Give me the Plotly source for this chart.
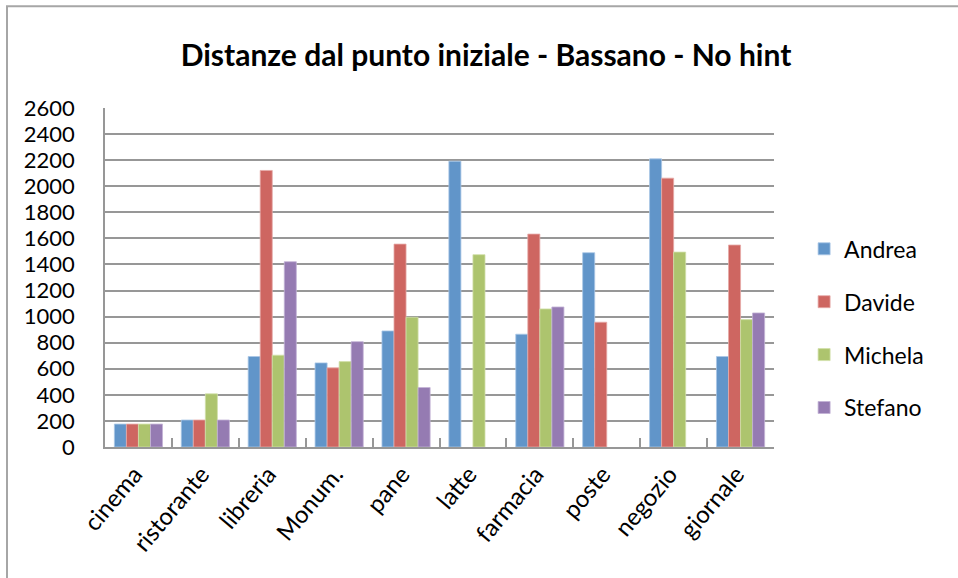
import plotly.graph_objects as go

# Destinations and distances from the starting point, per participant
categories = ["cinema", "ristorante", "libreria", "Monum.", "pane",
              "latte", "farmacia", "poste", "negozio", "giornale"]
andrea = [176, 207, 694, 645, 890, 2192, 865, 1490, 2210, 694]
davide = [176, 207, 2121, 607, 1556, None, 1633, 957, 2062, 1549]
michela = [176, 408, 704, 655, 995, 1475, 1059, None, 1495, 977]
stefano = [176, 207, 1421, 808, 456, None, 1074, None, None, 1028]

series_names = ["Andrea", "Davide", "Michela", "Stefano"]
series_values = [andrea, davide, michela, stefano]
colors = ["#6195C9", "#CE6661", "#ADC46E", "#957BB2"]
edge_colors = ["#A9C6E6", "#E6AAA7", "#D1E0AA", "#C3B3D6"]

y_ticks = list(range(0, 2601, 200))

FONT = "Lato"

fig = go.Figure()
for name, vals, col, edge in zip(series_names, series_values, colors, edge_colors):
    fig.add_trace(go.Bar(
        name=name, x=categories, y=vals, legendgroup=name,
        marker=dict(color=col, line=dict(color=edge, width=0.8)),
    ))

fig.update_layout(
    width=958, height=578,
    barmode="group", bargap=0.28, bargroupgap=0,
    paper_bgcolor="white", plot_bgcolor="white",
    margin=dict(l=105, r=184, t=108, b=131),
    font=dict(family=FONT, size=22, color="black"),
    title=dict(
        text="<b>Distanze dal punto iniziale - Bassano - No hint</b>",
        x=486 / 958, xanchor="center", xref="container",
        y=1 - 55 / 578, yanchor="middle",
        font=dict(family=FONT, size=30, color="black"),
    ),
    legend=dict(
        x=1.045, xanchor="left", y=0.35, yanchor="middle",
        font=dict(family=FONT, size=23),
        tracegroupgap=20, itemwidth=30,
        bgcolor="rgba(0,0,0,0)",
    ),
    showlegend=True,
    shapes=[dict(
        type="rect", xref="paper", yref="paper",
        x0=-98 / 669, x1=3, y0=-3, y1=1 + 102 / 340,
        line=dict(color="#A6A6A6", width=2), layer="below",
    )],
)

fig.update_yaxes(
    range=[0, 2600], tickvals=y_ticks, ticktext=[str(v) for v in y_ticks],
    showgrid=True, gridcolor="#979797", gridwidth=1.5,
    showline=True, linecolor="#979797", linewidth=1.5,
    ticks="", ticklabelstandoff=24, zeroline=False,
)
fig.update_xaxes(
    showline=True, linecolor="#979797", linewidth=1.5,
    ticks="inside", ticklen=9, tickcolor="#979797", tickwidth=1.5,
    tickson="boundaries", tickangle=-50, showgrid=False,
    tickfont=dict(family=FONT, size=24),
    ticklabelstandoff=2, ticklabelshift=-4,
)

fig.write_html("out.html")
